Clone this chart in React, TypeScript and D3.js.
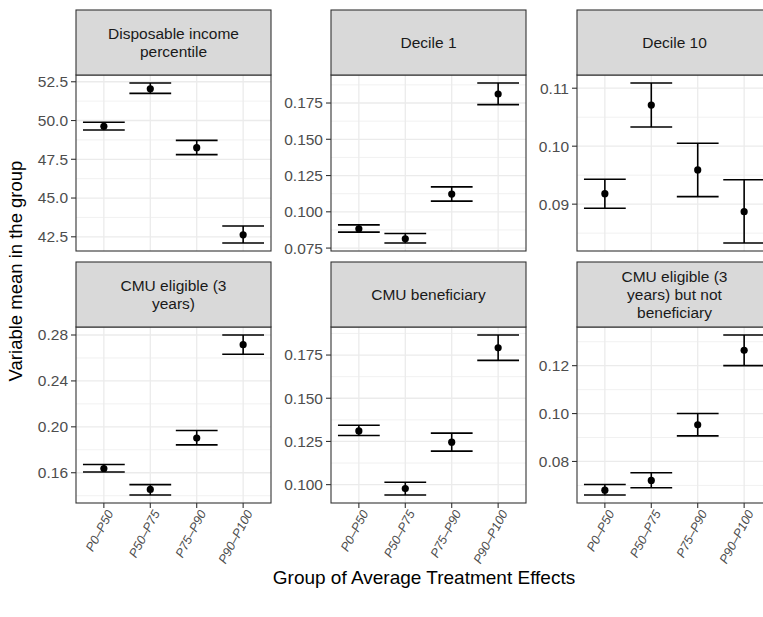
import React, { useEffect, useRef } from 'react'
import * as d3 from 'd3'

// x categories (shared by every facet)
const groups = ['P0–P50', 'P50–P75', 'P75–P90', 'P90–P100']

// Disposable income percentile
const incomeMean = [49.63, 52.05, 48.25, 42.63]
const incomeLow = [49.39, 51.75, 47.8, 42.1]
const incomeHigh = [49.89, 52.42, 48.72, 43.2]
const incomeTicks = [42.5, 45, 47.5, 50, 52.5]

// Decile 1
const d1Mean = [0.0883, 0.0814, 0.1122, 0.1812]
const d1Low = [0.086, 0.0785, 0.1074, 0.1739]
const d1High = [0.091, 0.0851, 0.1172, 0.1888]
const d1Ticks = [0.075, 0.1, 0.125, 0.15, 0.175]

// Decile 10
const d10Mean = [0.0918, 0.1071, 0.0959, 0.0887]
const d10Low = [0.0893, 0.1033, 0.0913, 0.0833]
const d10High = [0.0943, 0.1109, 0.1005, 0.0942]
const d10Ticks = [0.09, 0.1, 0.11]

// CMU eligible (3 years)
const eligMean = [0.1637, 0.1455, 0.1902, 0.2716]
const eligLow = [0.1606, 0.1406, 0.1843, 0.2632]
const eligHigh = [0.1672, 0.1496, 0.1968, 0.28]
const eligTicks = [0.16, 0.2, 0.24, 0.28]

// CMU beneficiary
const benMean = [0.1311, 0.0977, 0.1246, 0.1792]
const benLow = [0.1284, 0.094, 0.1194, 0.1719]
const benHigh = [0.1344, 0.1014, 0.1298, 0.1866]
const benTicks = [0.1, 0.125, 0.15, 0.175]

// CMU eligible (3 years) but not beneficiary
const notBenMean = [0.068, 0.0721, 0.0953, 0.1264]
const notBenLow = [0.066, 0.069, 0.0907, 0.12]
const notBenHigh = [0.0704, 0.0753, 0.1, 0.1328]
const notBenTicks = [0.08, 0.1, 0.12]

const panels = [
  { title: ['Disposable income', 'percentile'], mean: incomeMean, low: incomeLow, high: incomeHigh, ticks: incomeTicks, fmt: '.1f' },
  { title: ['Decile 1'], mean: d1Mean, low: d1Low, high: d1High, ticks: d1Ticks, fmt: '.3f' },
  { title: ['Decile 10'], mean: d10Mean, low: d10Low, high: d10High, ticks: d10Ticks, fmt: '.2f' },
  { title: ['CMU eligible (3', 'years)'], mean: eligMean, low: eligLow, high: eligHigh, ticks: eligTicks, fmt: '.2f' },
  { title: ['CMU beneficiary'], mean: benMean, low: benLow, high: benHigh, ticks: benTicks, fmt: '.3f' },
  { title: ['CMU eligible (3', 'years) but not', 'beneficiary'], mean: notBenMean, low: notBenLow, high: notBenHigh, ticks: notBenTicks, fmt: '.2f' },
]

const W = 763
const H = 617
const FONT = '"Liberation Sans", Arial, Helvetica, sans-serif'

export default function App() {
  const svgRef = useRef<SVGSVGElement>(null)

  useEffect(() => {
    if (!svgRef.current) return
    const svg = d3.select(svgRef.current)
    svg.selectAll('*').remove()

    // facet layout
    const colLeft = [76, 331, 577]
    const rowTop = [10, 262]
    const panelW = 195
    const stripH = 65
    const panelH = 176
    const lineH = 18

    panels.forEach((p, i) => {
      const col = i % 3
      const row = Math.floor(i / 3)
      const x0 = colLeft[col]
      const y0 = rowTop[row] + stripH
      const g = svg.append('g').attr('transform', `translate(${x0},${y0})`)

      const lo = d3.min(p.low) as number
      const hi = d3.max(p.high) as number
      const pad = (hi - lo) * 0.05

      const x = d3.scalePoint<string>().domain(groups).range([0, panelW]).padding(0.6)
      const y = d3.scaleLinear().domain([lo - pad, hi + pad]).range([panelH, 0])

      // grid
      const step = p.ticks[1] - p.ticks[0]
      const minor = d3.range(p.ticks[0] - step / 2, p.ticks[p.ticks.length - 1] + step, step)
        .filter(v => v > lo - pad && v < hi + pad)

      g.append('rect').attr('width', panelW).attr('height', panelH).attr('fill', 'white')

      g.selectAll('.minor').data(minor).enter().append('line')
        .attr('x1', 0).attr('x2', panelW)
        .attr('y1', d => y(d)).attr('y2', d => y(d))
        .attr('stroke', '#EBEBEB').attr('stroke-width', 0.7)

      g.selectAll('.major').data(p.ticks).enter().append('line')
        .attr('x1', 0).attr('x2', panelW)
        .attr('y1', d => y(d)).attr('y2', d => y(d))
        .attr('stroke', '#EBEBEB').attr('stroke-width', 1.3)

      g.selectAll('.vgrid').data(groups).enter().append('line')
        .attr('x1', d => x(d)!).attr('x2', d => x(d)!)
        .attr('y1', 0).attr('y2', panelH)
        .attr('stroke', '#EBEBEB').attr('stroke-width', 1.3)

      // error bars
      const half = x.step() * 0.45
      const bars = g.selectAll('.bar').data(groups).enter().append('g')
      bars.append('line')
        .attr('x1', d => x(d)!).attr('x2', d => x(d)!)
        .attr('y1', (d, j) => y(p.low[j])).attr('y2', (d, j) => y(p.high[j]))
        .attr('stroke', 'black').attr('stroke-width', 1.6)
      bars.append('line')
        .attr('x1', d => x(d)! - half).attr('x2', d => x(d)! + half)
        .attr('y1', (d, j) => y(p.low[j])).attr('y2', (d, j) => y(p.low[j]))
        .attr('stroke', 'black').attr('stroke-width', 1.6)
      bars.append('line')
        .attr('x1', d => x(d)! - half).attr('x2', d => x(d)! + half)
        .attr('y1', (d, j) => y(p.high[j])).attr('y2', (d, j) => y(p.high[j]))
        .attr('stroke', 'black').attr('stroke-width', 1.6)
      bars.append('circle')
        .attr('cx', d => x(d)!)
        .attr('cy', (d, j) => y(p.mean[j]))
        .attr('r', 3.6)
        .attr('fill', 'black')

      // panel border
      g.append('rect').attr('width', panelW).attr('height', panelH)
        .attr('fill', 'none').attr('stroke', '#333333').attr('stroke-width', 1.1)

      // strip
      const strip = svg.append('g').attr('transform', `translate(${x0},${rowTop[row]})`)
      strip.append('rect').attr('width', panelW).attr('height', stripH)
        .attr('fill', '#D9D9D9').attr('stroke', '#333333').attr('stroke-width', 1.1)
      const n = p.title.length
      p.title.forEach((t, k) => {
        strip.append('text')
          .attr('x', panelW / 2)
          .attr('y', stripH / 2 + (k - (n - 1) / 2) * lineH)
          .attr('dy', '0.35em')
          .attr('text-anchor', 'middle')
          .attr('fill', '#1A1A1A')
          .style('font-size', '15.5px')
          .style('font-family', FONT)
          .text(t)
      })

      // y axis
      const fmt = d3.format(p.fmt)
      const ya = g.append('g')
      ya.selectAll('line').data(p.ticks).enter().append('line')
        .attr('x1', -5).attr('x2', 0)
        .attr('y1', d => y(d)).attr('y2', d => y(d))
        .attr('stroke', '#333333').attr('stroke-width', 1.1)
      ya.selectAll('text').data(p.ticks).enter().append('text')
        .attr('x', -8).attr('y', d => y(d)).attr('dy', '0.35em')
        .attr('text-anchor', 'end')
        .attr('fill', '#4D4D4D')
        .style('font-size', '15.5px')
        .style('font-family', FONT)
        .text(d => fmt(d))

      // x axis only on the bottom row
      if (row === 1) {
        const xa = g.append('g').attr('transform', `translate(0,${panelH})`)
        xa.selectAll('line').data(groups).enter().append('line')
          .attr('x1', d => x(d)!).attr('x2', d => x(d)!)
          .attr('y1', 0).attr('y2', 5)
          .attr('stroke', '#333333').attr('stroke-width', 1.1)
        xa.selectAll('text').data(groups).enter().append('text')
          .attr('transform', d => `translate(${x(d)! + 6},${8}) rotate(-62)`)
          .attr('dy', '0.35em')
          .attr('text-anchor', 'end')
          .attr('fill', '#4D4D4D')
          .style('font-size', '12.5px')
          .style('font-style', 'italic')
          .style('font-family', FONT)
          .text(d => d)
      }
    })

    // axis titles
    svg.append('text')
      .attr('x', 424).attr('y', 584)
      .attr('text-anchor', 'middle')
      .style('font-size', '19px')
      .style('font-family', FONT)
      .attr('fill', 'black')
      .text('Group of Average Treatment Effects')

    svg.append('text')
      .attr('transform', 'translate(22,271) rotate(-90)')
      .attr('text-anchor', 'middle')
      .style('font-size', '18.5px')
      .style('font-family', FONT)
      .attr('fill', 'black')
      .text('Variable mean in the group')
  }, [])

  return (
    <svg
      ref={svgRef}
      width={W}
      height={H}
      style={{ position: 'absolute', left: 0, top: 0, background: 'white' }}
    />
  )
}
